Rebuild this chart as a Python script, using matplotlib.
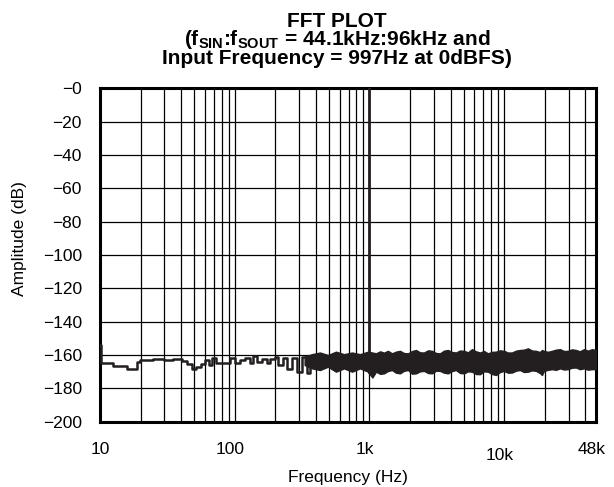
import matplotlib
matplotlib.use("Agg")
import matplotlib.pyplot as plt
from matplotlib.transforms import blended_transform_factory, ScaledTranslation

plt.rcParams['font.family'] = ['Liberation Sans', 'DejaVu Sans']
plt.rcParams['mathtext.fontset'] = 'custom'
plt.rcParams['mathtext.rm'] = 'Liberation Sans'
plt.rcParams['mathtext.bf'] = 'Liberation Sans:bold'

# ---- data ----
lf_freq = [10, 10.2, 12.5, 15.9, 18.8, 19.8, 24.7, 30, 35, 40.6, 44, 48, 52, 56, 60, 64,
           68, 72, 77.7, 92, 100, 109, 119, 130, 137, 146, 160, 174, 183, 199, 209, 228,
           244, 266, 290, 316, 344, 362, 410, 450]
lf_db = [-154, -164.5, -166.8, -168.3, -164.2, -162.8, -162.4, -162.8, -162.3, -163.5,
         -165.5, -168.3, -167.0, -165.5, -163.0, -166.0, -162.0, -164.5, -164.5, -162,
         -165, -163, -161.5, -165, -160.5, -164, -162.5, -165, -162.5, -161, -166, -161.5,
         -168.5, -162, -170, -161, -171, -160.5, -166, -163]

band_freq = [330, 374, 429, 492, 564, 647, 742, 850, 975, 1050, 1117, 1200, 1281, 1370,
             1469, 1570, 1684, 1800, 1931, 2070, 2213, 2370, 2537, 2720, 2910, 3120, 3335,
             3570, 3824, 4100, 4385, 4700, 5026, 5380, 5763, 6170, 6607, 7070, 7575, 8110,
             8684, 9300, 9956, 10650, 11412, 12220, 13085, 14010, 15003, 16060, 17199,
             18400, 19060, 19720, 21100, 22610, 24200, 25920, 27750, 29720, 31820, 34070,
             36480, 39060, 41820, 44780, 48000]
band_hi = [-161, -159.5, -158.5, -160, -158, -159.5, -158.5, -159.5, -158, -158.5, -159,
           -157.8, -158.6, -157.5, -159, -158, -157.5, -158.8, -159, -157.6, -157, -158.4,
           -158.5, -157.2, -157.5, -158.8, -159, -157.4, -157, -158.2, -158.5, -157.3,
           -157.5, -158.4, -156.5, -157.8, -158.5, -157.6, -159, -158.1, -158, -157.2,
           -157.5, -158.5, -158.5, -157.4, -157, -156.8, -156, -157.3, -157.5, -158.2,
           -157, -157.5, -158.1, -157.5, -156.8, -156.5, -157.6, -157.5, -156.6, -157,
           -157.8, -156.5, -157.4, -156.5, -157]
band_lo = [-166, -168, -169, -167, -170, -168, -170, -168, -170, -173.5, -170, -171.3,
           -171, -169.6, -169, -170.6, -171, -169.5, -169, -171.2, -171, -169.8, -169.5,
           -170.8, -171, -169.4, -169.5, -170.6, -171, -169.6, -169, -170.8, -171, -169.8,
           -170, -171.4, -171.5, -169.8, -170, -171.4, -172, -170.2, -169.5, -170.6,
           -170.5, -169.4, -169, -170.2, -170, -169.2, -169.5, -170.8, -172, -169.5,
           -168.9, -168.5, -168.9, -168, -168.7, -168.5, -167.6, -167.5, -168.5, -168,
           -168.8, -168.5, -168.5]

peak_freq = 997
peak_db = [-170, 0]

xtick_vals = [10, 100, 1000, 10000, 48000]
xtick_labels = ['10', '100', '1k', '10k', '48k']
ytick_vals = list(range(0, -201, -20))
ytick_labels = ['\u22120'] + ['\u2212%d' % (-v) for v in ytick_vals[1:]]

# ---- figure ----
fig = plt.figure(figsize=(6.14, 4.87), dpi=100)
ax = fig.add_axes([0.1629, 0.1341, 0.9707 - 0.1629, 0.8187 - 0.1341])

col = '#231f20'
ax.set_xscale('log')
ax.set_xlim(10, 48000)
ax.set_ylim(-200, 0)

# grid
minor = [m * d for d in (10, 100, 1000, 10000) for m in range(1, 10) if 10 < m * d < 48000]
for f in minor:
    ax.axvline(f, color='black', lw=0.9, zorder=1)
for v in ytick_vals[1:-1]:
    ax.axhline(v, color='black', lw=0.9, zorder=1)

ax.plot(lf_freq, lf_db, drawstyle='steps-post', color=col, lw=1.8, zorder=3)
ax.fill_between(band_freq, band_lo, band_hi, color=col, lw=1.0,
                edgecolor=col, zorder=3)
ax.plot([peak_freq, peak_freq], peak_db, color=col, lw=2.0, zorder=3)

ax.set_yticks(ytick_vals)
ax.set_yticklabels(ytick_labels, fontsize=12.5)
ax.tick_params(axis='y', length=0, pad=13)
ax.set_xticks([])
ax.minorticks_off()
ax.tick_params(axis='x', which='both', length=0)

trans = blended_transform_factory(ax.transData, ax.transAxes)
for v, lab in zip(xtick_vals, xtick_labels):
    dx = 0 if lab == '10' else -3 / 72
    dy = -4 / 72 if lab == '10k' else 0
    t = trans + ScaledTranslation(dx, dy, fig.dpi_scale_trans)
    ax.text(v, -0.062, lab, transform=t, ha='center', va='top', fontsize=12.5)

ax.set_xlabel('Frequency (Hz)', fontsize=12.5, labelpad=35)
ax.set_ylabel('Amplitude (dB)', fontsize=12.5)
ax.yaxis.set_label_coords(-0.147, 0.549)

for s in ax.spines.values():
    s.set_linewidth(2.2)
    s.set_color('black')

fig.text(0.549, 0.976,
         'FFT PLOT\n'
         r'($\mathbf{f_{SIN}}$:$\mathbf{f_{SOUT}}$ = 44.1kHz:96kHz and' '\n'
         'Input Frequency = 997Hz at 0dBFS)',
         ha='center', va='top', fontsize=15, fontweight='bold', linespacing=0.86)

fig.savefig('out.png', dpi=100)
